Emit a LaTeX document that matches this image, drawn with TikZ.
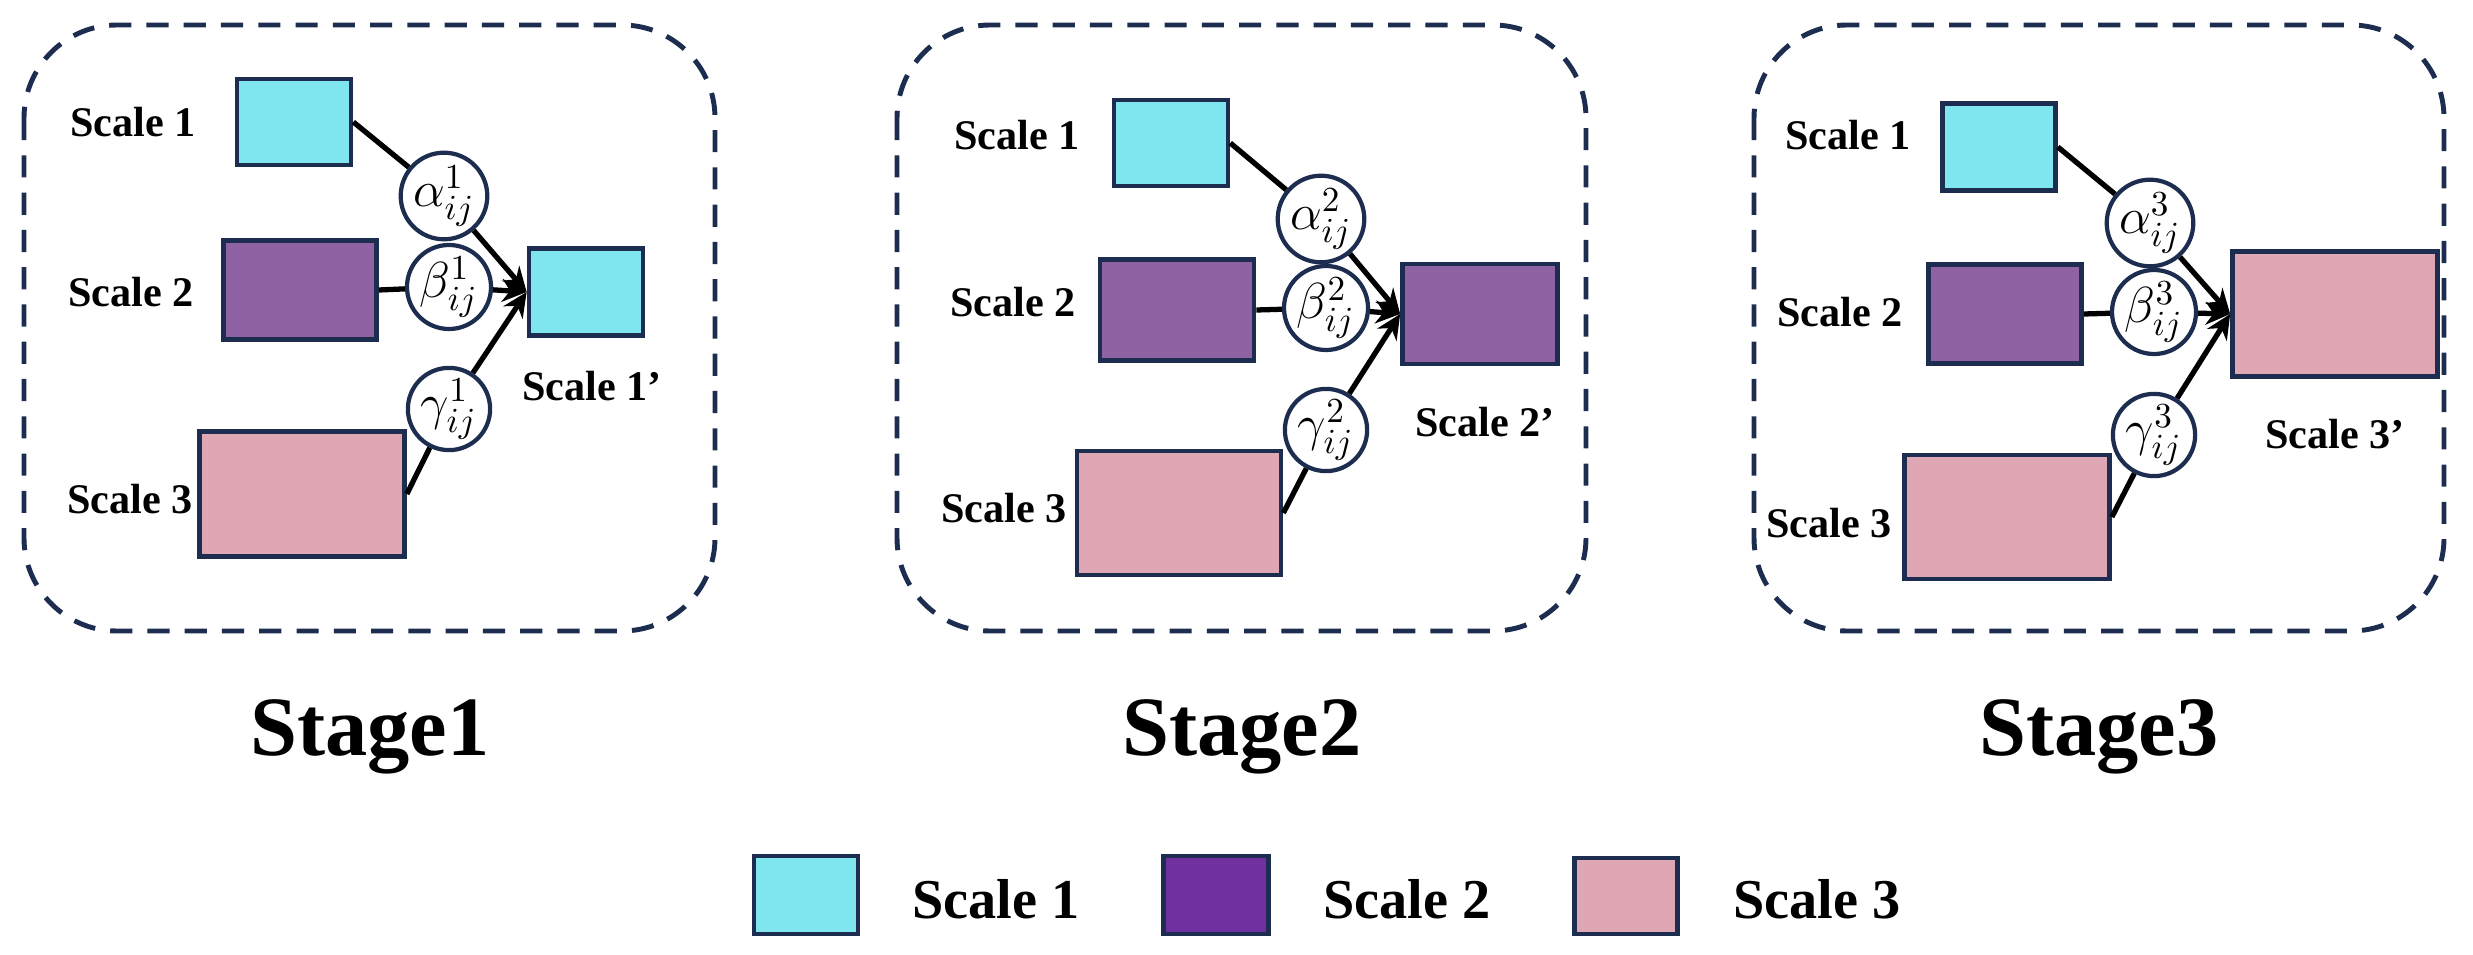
\documentclass[tikz,border=0pt]{standalone}
\usepackage{fontspec}
\setmainfont{Liberation Serif}
\usetikzlibrary{arrows.meta}
\DeclareMathSizes{14}{14}{10}{8}
\definecolor{navy}{HTML}{1C2D50}
\definecolor{scaleone}{HTML}{7FE6F0}
\definecolor{scaletwo}{HTML}{8F62A3}
\definecolor{scaletwodark}{HTML}{7030A0}
\definecolor{scalethree}{HTML}{DFA7B3}
\tikzset{
  stagebox/.style={draw=navy, line width=1.4pt, dash pattern=on 6.3pt off 4.3pt, rounded corners=0.93cm},
  blk/.style={draw=navy, line width=1.3pt, inner sep=0pt},
  wgt/.style={circle, draw=navy, line width=1.2pt, fill=white, minimum size=0.74cm, inner sep=0pt, font=\fontsize{14}{14}\selectfont},
  lbl/.style={font=\fontsize{12}{14}\selectfont\bfseries},
  title/.style={font=\fontsize{24}{28}\selectfont\bfseries, anchor=base},
  legtext/.style={font=\fontsize{16}{18}\selectfont\bfseries},
  link/.style={line width=1.5pt}
}
\begin{document}
\begin{tikzpicture}[x=0.01cm, y=-0.01cm, >={Stealth[length=7pt,width=6.5pt]}]
      \useasboundingbox (0,0) rectangle (2473,955);
      % stage 1
      \draw[stagebox] (24,25) rectangle (715,631);
      \node[blk, fill=scaleone, minimum width=1.14cm, minimum height=0.86cm] (aone) at (294,122) {};
      \node[blk, fill=scaletwo, minimum width=1.53cm, minimum height=0.99cm] (atwo) at (300,290) {};
      \node[blk, fill=scalethree, minimum width=2.05cm, minimum height=1.25cm] (athree) at (302,494) {};
      \node[blk, fill=scaleone, minimum width=1.14cm, minimum height=0.87cm] (aout) at (586,292) {};
      \node[lbl] (aonelbl) at (133,122) {Scale 1};
      \node[lbl] (atwolbl) at (131,292) {Scale 2};
      \node[lbl] (athreelbl) at (130,499) {Scale 3};
      \node[lbl] (aoutlbl) at (592,386) {Scale 1’};
      \node[wgt] (aalpha) at (444,196) {$\alpha^{1}_{ij}$};
      \node[wgt] (abeta) at (449,287) {$\beta^{1}_{ij}$};
      \node[wgt] (agamma) at (449,409) {$\gamma^{1}_{ij}$};
      \draw[link] (aone.east) -- (aalpha);
      \draw[link] (atwo.east) -- (abeta);
      \draw[link] (athree.east) -- (agamma);
      \draw[link, ->] (aalpha) -- (aout.west);
      \draw[link, ->] (abeta) -- (aout.west);
      \draw[link, ->] (agamma) -- (aout.west);
      \node[title] (atitle) at (370,755) {Stage1};
      % stage 2
      \draw[stagebox] (897,25) rectangle (1586,631);
      \node[blk, fill=scaleone, minimum width=1.14cm, minimum height=0.86cm] (bone) at (1171,143) {};
      \node[blk, fill=scaletwo, minimum width=1.54cm, minimum height=1.01cm] (btwo) at (1177,310) {};
      \node[blk, fill=scalethree, minimum width=2.04cm, minimum height=1.24cm] (bthree) at (1179,513) {};
      \node[blk, fill=scaletwo, minimum width=1.55cm, minimum height=1.00cm] (bout) at (1480,314) {};
      \node[lbl] (bonelbl) at (1017,135) {Scale 1};
      \node[lbl] (btwolbl) at (1013,302) {Scale 2};
      \node[lbl] (bthreelbl) at (1004,508) {Scale 3};
      \node[lbl] (boutlbl) at (1485,422) {Scale 2’};
      \node[wgt] (balpha) at (1321,219) {$\alpha^{2}_{ij}$};
      \node[wgt] (bbeta) at (1326,308) {$\beta^{2}_{ij}$};
      \node[wgt] (bgamma) at (1326,430) {$\gamma^{2}_{ij}$};
      \draw[link] (bone.east) -- (balpha);
      \draw[link] (btwo.east) -- (bbeta);
      \draw[link] (bthree.east) -- (bgamma);
      \draw[link, ->] (balpha) -- (bout.west);
      \draw[link, ->] (bbeta) -- (bout.west);
      \draw[link, ->] (bgamma) -- (bout.west);
      \node[title] (btitle) at (1242,755) {Stage2};
      % stage 3
      \draw[stagebox] (1754,25) rectangle (2444,631);
      \node[blk, fill=scaleone, minimum width=1.13cm, minimum height=0.87cm] (cone) at (1999,147) {};
      \node[blk, fill=scaletwo, minimum width=1.53cm, minimum height=0.99cm] (ctwo) at (2005,314) {};
      \node[blk, fill=scalethree, minimum width=2.05cm, minimum height=1.24cm] (cthree) at (2007,517) {};
      \node[blk, fill=scalethree, minimum width=2.05cm, minimum height=1.25cm] (cout) at (2335,314) {};
      \node[lbl] (conelbl) at (1848,135) {Scale 1};
      \node[lbl] (ctwolbl) at (1840,312) {Scale 2};
      \node[lbl] (cthreelbl) at (1829,523) {Scale 3};
      \node[lbl] (coutlbl) at (2335,434) {Scale 3’};
      \node[wgt] (calpha) at (2150,223) {$\alpha^{3}_{ij}$};
      \node[wgt] (cbeta) at (2154,312) {$\beta^{3}_{ij}$};
      \node[wgt] (cgamma) at (2154,435) {$\gamma^{3}_{ij}$};
      \draw[link] (cone.east) -- (calpha);
      \draw[link] (ctwo.east) -- (cbeta);
      \draw[link] (cthree.east) -- (cgamma);
      \draw[link, ->] (calpha) -- (cout.west);
      \draw[link, ->] (cbeta) -- (cout.west);
      \draw[link, ->] (cgamma) -- (cout.west);
      \node[title] (ctitle) at (2099,755) {Stage3};
      % legend
      \node[blk, fill=scaleone, minimum width=1.04cm, minimum height=0.78cm] (keyone) at (806,895) {};
      \node[blk, fill=scaletwodark, minimum width=1.05cm, minimum height=0.78cm] (keytwo) at (1216,895) {};
      \node[blk, fill=scalethree, minimum width=1.03cm, minimum height=0.76cm] (keythree) at (1626,896) {};
      \node[legtext] (keyonelbl) at (996,899) {Scale 1};
      \node[legtext] (keytwolbl) at (1407,899) {Scale 2};
      \node[legtext] (keythreelbl) at (1817,899) {Scale 3};
    \end{tikzpicture}
\end{document}
